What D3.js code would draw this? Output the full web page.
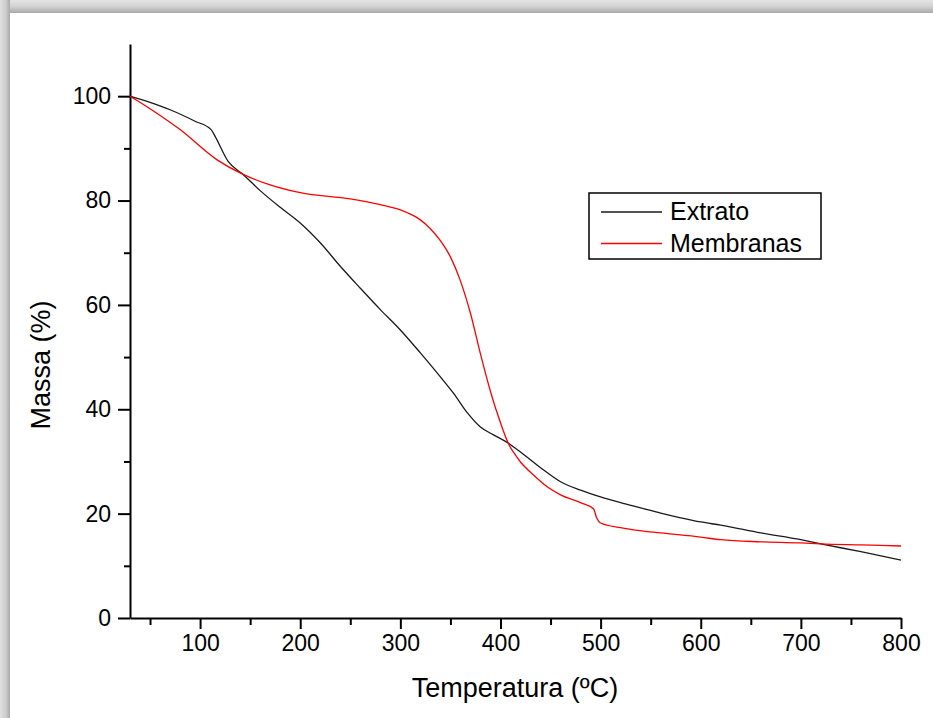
<!DOCTYPE html>
<html>
<head>
<meta charset="utf-8">
<script src="https://cdn.jsdelivr.net/npm/d3@7"></script>
<style>
  body { margin: 0; background: #fff; }
  text { font-family: "Liberation Sans", Arial, sans-serif; }
</style>
</head>
<body>
<script>
const width = 933;
const height = 718;

// Extrato (black)
const extratoT = [30, 50, 70, 95, 111, 115, 128, 143, 160, 180, 200, 220, 240, 260, 280, 300, 320, 340, 353, 367, 380, 393, 407, 420, 440, 460, 480, 500, 520, 540, 560, 580, 600, 620, 660, 700, 720, 760, 800];
const extratoM = [100, 98.8, 97.4, 95.2, 93.6, 92.3, 87.5, 85, 81.9, 78.7, 75.7, 71.9, 67.4, 63.2, 59.1, 55.2, 50.8, 46.2, 43.1, 39.3, 36.6, 35.1, 33.6, 31.8, 28.8, 26.1, 24.5, 23.2, 22.1, 21.1, 20.1, 19.2, 18.4, 17.8, 16.3, 15, 14.2, 12.7, 11.1];

// Membranas (red)
const membranasT = [30, 50, 80, 117, 142, 170, 200, 250, 280, 300, 310, 320, 330, 340, 350, 360, 370, 380, 390, 400, 408, 415, 420, 433, 447, 460, 480, 493, 496, 500, 520, 533, 560, 600, 620, 660, 700, 720, 760, 800];
const membranasM = [100, 97.6, 93.6, 87.8, 85.1, 83, 81.5, 80.3, 79.2, 78.2, 77.4, 76.3, 74.6, 72.3, 69.2, 64.6, 58.4, 50.6, 43.4, 37.4, 33.4, 31.2, 29.9, 27.4, 25.1, 23.6, 22.1, 20.9, 19.2, 18.2, 17.3, 16.9, 16.3, 15.5, 15, 14.6, 14.4, 14.2, 14, 13.8];

const xMajor = [100, 200, 300, 400, 500, 600, 700, 800];
const xMinor = [50, 150, 250, 350, 450, 550, 650, 750];
const yMajor = [0, 20, 40, 60, 80, 100];
const yMinor = [10, 30, 50, 70, 90];

const seriesNames = ["Extrato", "Membranas"];
const seriesColors = ["#1a1a1a", "#ff0000"];

const svg = d3.select("body").append("svg")
    .attr("width", width)
    .attr("height", height);

// frame shadow
const defs = svg.append("defs");
const gTop = defs.append("linearGradient").attr("id", "gTop")
    .attr("x1", "0%").attr("y1", "0%").attr("x2", "0%").attr("y2", "100%");
gTop.append("stop").attr("offset", "0%").attr("stop-color", "#e4e4e4");
gTop.append("stop").attr("offset", "50%").attr("stop-color", "#d2d2d2");
gTop.append("stop").attr("offset", "100%").attr("stop-color", "#a9a9a9");
const gLeft = defs.append("linearGradient").attr("id", "gLeft")
    .attr("x1", "0%").attr("y1", "0%").attr("x2", "100%").attr("y2", "0%");
gLeft.append("stop").attr("offset", "0%").attr("stop-color", "#e0e0e0");
gLeft.append("stop").attr("offset", "60%").attr("stop-color", "#cccccc");
gLeft.append("stop").attr("offset", "100%").attr("stop-color", "#a9a9a9");

svg.append("rect").attr("x", 0).attr("y", 0).attr("width", width).attr("height", 13)
    .attr("fill", "url(#gTop)");
svg.append("rect").attr("x", 0).attr("y", 0).attr("width", 10).attr("height", height)
    .attr("fill", "url(#gLeft)");

const x = d3.scaleLinear().domain([30, 800]).range([130, 901]);
const y = d3.scaleLinear().domain([0, 110]).range([618, 44]);

// axes
svg.append("g")
    .attr("transform", "translate(0,618)")
    .call(d3.axisBottom(x).tickValues(xMajor).tickSize(11).tickPadding(6).tickSizeOuter(0));
svg.append("g")
    .attr("transform", "translate(0,618)")
    .call(d3.axisBottom(x).tickValues(xMinor).tickSize(7).tickFormat(""))
    .select(".domain").remove();

svg.append("g")
    .attr("transform", "translate(130,0)")
    .call(d3.axisLeft(y).tickValues(yMajor).tickSize(12).tickPadding(7).tickSizeOuter(0));
svg.append("g")
    .attr("transform", "translate(130,0)")
    .call(d3.axisLeft(y).tickValues(yMinor).tickSize(6).tickFormat(""))
    .select(".domain").remove();

svg.selectAll(".domain").attr("stroke", "#000").attr("stroke-width", 2);
svg.selectAll(".tick line").attr("stroke", "#000").attr("stroke-width", 2);
svg.selectAll(".tick text")
    .attr("fill", "#000")
    .style("font-size", "23px")
    .style("font-family", "'Liberation Sans', Arial, sans-serif");

// axis titles
svg.append("text")
    .attr("x", 515).attr("y", 697)
    .attr("text-anchor", "middle")
    .style("font-size", "27px")
    .attr("fill", "#000")
    .text("Temperatura (ºC)");

svg.append("text")
    .attr("transform", "translate(50,365) rotate(-90)")
    .attr("text-anchor", "middle")
    .style("font-size", "27px")
    .attr("fill", "#000")
    .text("Massa (%)");

// curves
const line = d3.line()
    .x(d => x(d[0]))
    .y(d => y(d[1]))
    .curve(d3.curveMonotoneX);

const series = [
    d3.zip(extratoT, extratoM),
    d3.zip(membranasT, membranasM)
];

svg.selectAll(".curve")
    .data(series)
    .enter().append("path")
    .attr("class", "curve")
    .attr("d", line)
    .attr("fill", "none")
    .attr("stroke", (d, i) => seriesColors[i])
    .attr("stroke-width", 1.3);

// legend
const legend = svg.append("g");
legend.append("rect")
    .attr("x", 589).attr("y", 193)
    .attr("width", 232).attr("height", 66)
    .attr("fill", "#fff")
    .attr("stroke", "#000")
    .attr("stroke-width", 1.5);

seriesNames.forEach((name, i) => {
    const ly = 212 + i * 31.5;
    legend.append("line")
        .attr("x1", 601).attr("x2", 662)
        .attr("y1", ly).attr("y2", ly)
        .attr("stroke", seriesColors[i])
        .attr("stroke-width", 1.3);
    legend.append("text")
        .attr("x", 670).attr("y", ly + 8)
        .style("font-size", "25px")
        .attr("fill", "#000")
        .text(name);
});
</script>
</body>
</html>
